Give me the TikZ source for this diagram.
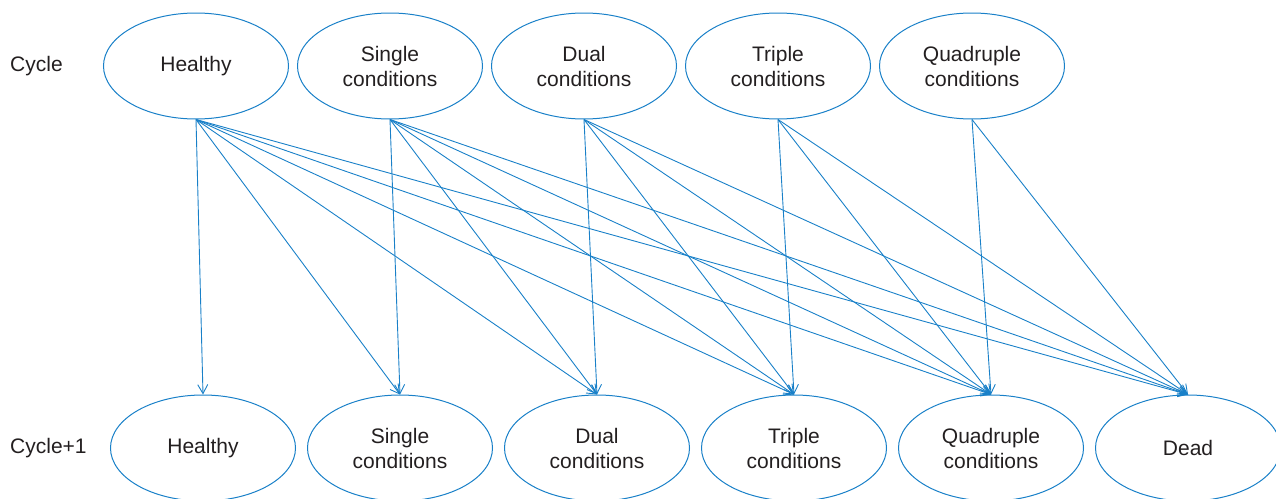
\documentclass[tikz,border=0pt]{standalone}
\usepackage{fontspec}
\setmainfont{Liberation Sans}
\usetikzlibrary{positioning, shapes.geometric, arrows.meta}

\definecolor{lineblue}{RGB}{25,128,200}
\definecolor{textgray}{RGB}{35,31,32}

\begin{document}
\begin{tikzpicture}[x=1pt, y=-1pt,
        state/.style={ellipse, draw=lineblue, line width=1pt, minimum width=185pt,
            minimum height=106pt, inner sep=0pt, align=center, text=textgray,
            font=\fontsize{21}{25}\selectfont},
        rowlabel/.style={anchor=west, inner sep=0pt, text=textgray,
            font=\fontsize{21}{25}\selectfont},
        trans/.style={draw=lineblue, line width=0.9pt,
            -{Straight Barb[length=9pt, width=10pt]}}]
        \useasboundingbox (0,0) rectangle (1276,498);

        % cycle
        \node[rowlabel] (cycleLabel) at (10,66) {Cycle};
        \node[state] (top1) at (196,66) {Healthy};
        \node[state, right = 8pt of top1] (top2) {Single\\conditions};
        \node[state, right = 8pt of top2] (top3) {Dual\\conditions};
        \node[state, right = 8pt of top3] (top4) {Triple\\conditions};
        \node[state, right = 8pt of top4] (top5) {Quadruple\\conditions};

        % cycle+1
        \node[rowlabel] (nextLabel) at (10,448) {Cycle+1};
        \node[state] (bot1) at (203,448) {Healthy};
        \node[state, right = 11pt of bot1] (bot2) {Single\\conditions};
        \node[state, right = 11pt of bot2] (bot3) {Dual\\conditions};
        \node[state, right = 11pt of bot3] (bot4) {Triple\\conditions};
        \node[state, right = 11pt of bot4] (bot5) {Quadruple\\conditions};
        \node[state, right = 11pt of bot5] (bot6) {Dead};

        \foreach \i in {1,...,5}
            \foreach \j in {\i,...,6}
                \draw[trans] (top\i.south) -- (bot\j.north);
    \end{tikzpicture}
\end{document}
